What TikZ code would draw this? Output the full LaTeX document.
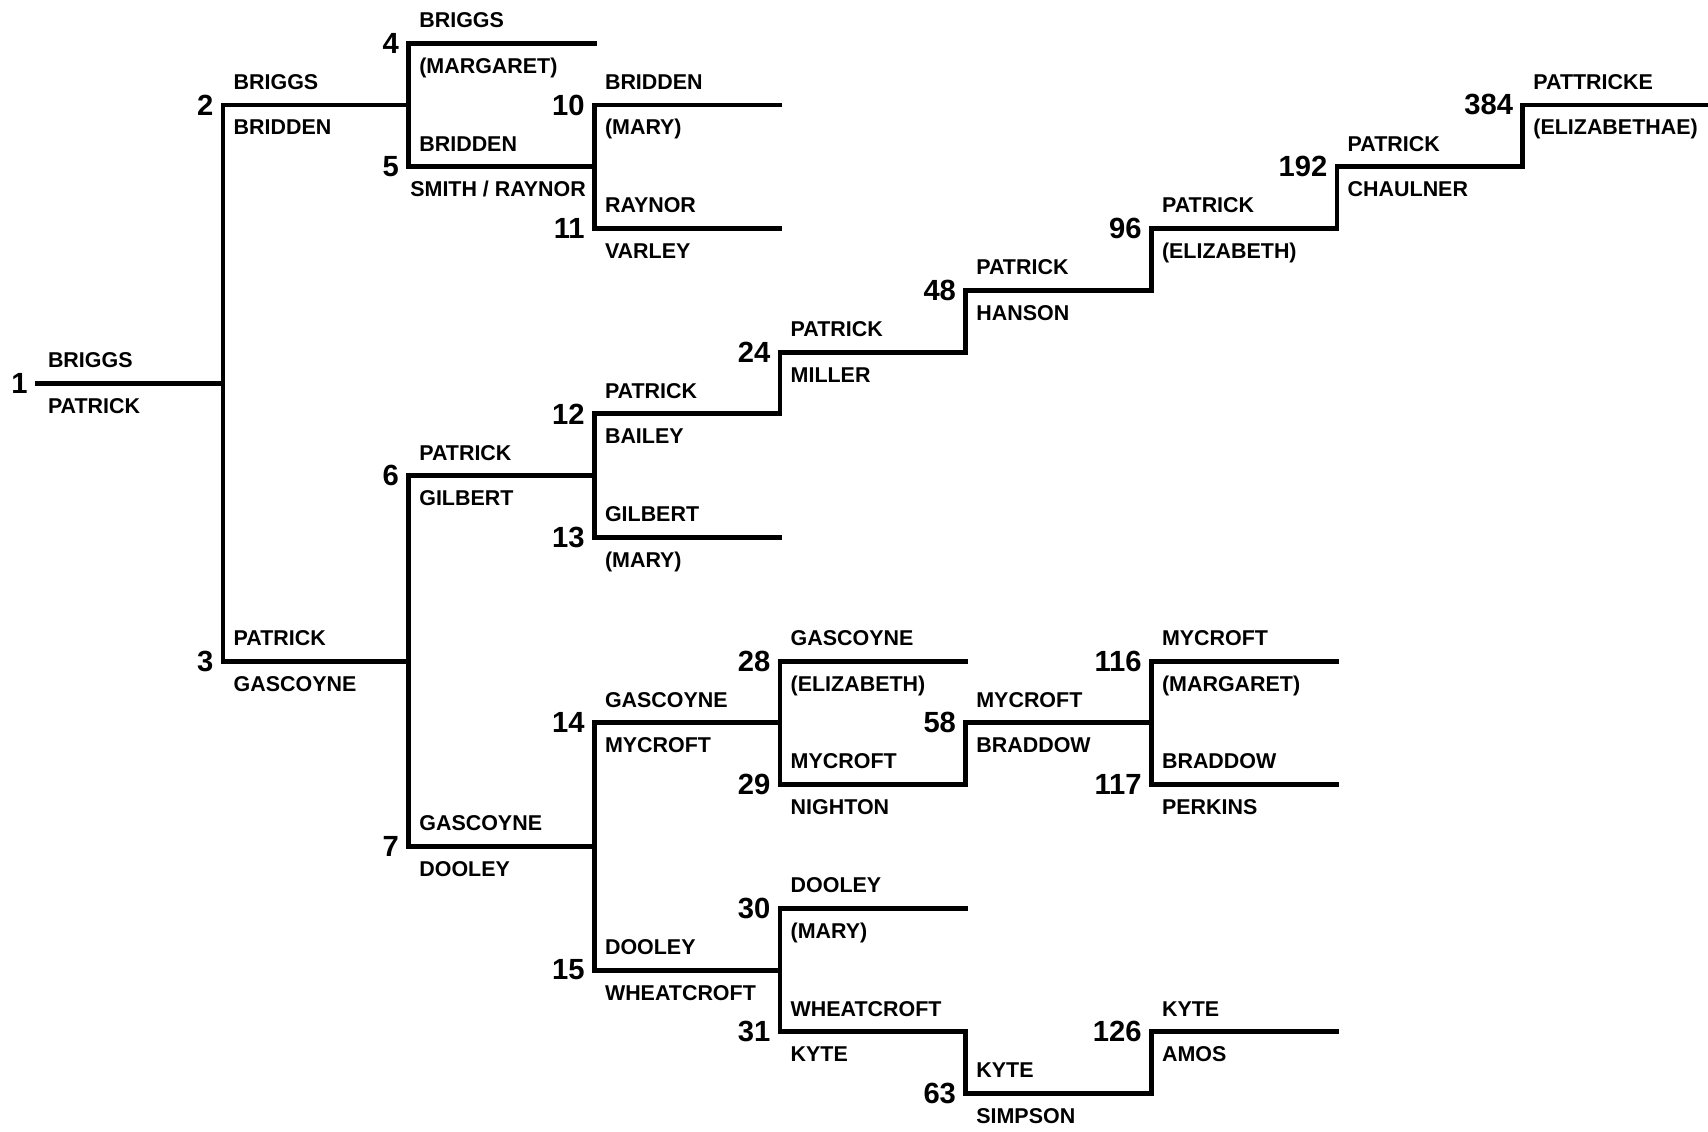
\documentclass[tikz,border=0pt]{standalone}
\usepackage{fontspec}
\setmainfont{Liberation Sans}
\usepackage{tikz}
\usetikzlibrary{positioning}
\newcommand{\pedname}{\fontsize{6.1}{7}\selectfont\bfseries}
\newcommand{\pednum}{\fontsize{8.3}{9}\selectfont\bfseries}

\begin{document}
\begin{tikzpicture}[
        x=1.8567cm, y=-0.6179cm,
        bar/.style={line width=1.4pt, line cap=rect},
        num/.style={anchor=east, inner sep=0pt, font=\pednum, xshift=-0.09cm},
        up/.style={anchor=base west, inner sep=0pt, font=\pedname, xshift=0.10cm, yshift=0.157cm},
        dn/.style={anchor=base west, inner sep=0pt, font=\pedname, xshift=0.10cm, yshift=-0.30cm}
    ]
        \useasboundingbox (-0.2009,-0.699) rectangle (8.998,17.605);

        \draw[bar] (0,5.5) coordinate (p1) -- ++(1,0) coordinate (p1e);
        \node[num] (n1) at (p1) {1};
        \node[up] (u1) at (p1) {BRIGGS};
        \node[dn] (d1) at (p1) {PATRICK};

        \draw[bar] (1,1) coordinate (p2) -- ++(1,0) coordinate (p2e);
        \node[num] (n2) at (p2) {2};
        \node[up] (u2) at (p2) {BRIGGS};
        \node[dn] (d2) at (p2) {BRIDDEN};

        \draw[bar] (1,10) coordinate (p3) -- ++(1,0) coordinate (p3e);
        \node[num] (n3) at (p3) {3};
        \node[up] (u3) at (p3) {PATRICK};
        \node[dn] (d3) at (p3) {GASCOYNE};

        \draw[bar] (2,0) coordinate (p4) -- ++(1,0) coordinate (p4e);
        \node[num] (n4) at (p4) {4};
        \node[up] (u4) at (p4) {BRIGGS};
        \node[dn] (d4) at (p4) {(MARGARET)};

        \draw[bar] (2,2) coordinate (p5) -- ++(1,0) coordinate (p5e);
        \node[num] (n5) at (p5) {5};
        \node[up] (u5) at (p5) {BRIDDEN};
        \node[dn, xshift=-0.09cm] (d5) at (p5) {SMITH / RAYNOR};

        \draw[bar] (2,7) coordinate (p6) -- ++(1,0) coordinate (p6e);
        \node[num] (n6) at (p6) {6};
        \node[up] (u6) at (p6) {PATRICK};
        \node[dn] (d6) at (p6) {GILBERT};

        \draw[bar] (2,13) coordinate (p7) -- ++(1,0) coordinate (p7e);
        \node[num] (n7) at (p7) {7};
        \node[up] (u7) at (p7) {GASCOYNE};
        \node[dn] (d7) at (p7) {DOOLEY};

        \draw[bar] (3,1) coordinate (p10) -- ++(1,0) coordinate (p10e);
        \node[num] (n10) at (p10) {10};
        \node[up] (u10) at (p10) {BRIDDEN};
        \node[dn] (d10) at (p10) {(MARY)};

        \draw[bar] (3,3) coordinate (p11) -- ++(1,0) coordinate (p11e);
        \node[num] (n11) at (p11) {11};
        \node[up] (u11) at (p11) {RAYNOR};
        \node[dn] (d11) at (p11) {VARLEY};

        \draw[bar] (3,6) coordinate (p12) -- ++(1,0) coordinate (p12e);
        \node[num] (n12) at (p12) {12};
        \node[up] (u12) at (p12) {PATRICK};
        \node[dn] (d12) at (p12) {BAILEY};

        \draw[bar] (3,8) coordinate (p13) -- ++(1,0) coordinate (p13e);
        \node[num] (n13) at (p13) {13};
        \node[up] (u13) at (p13) {GILBERT};
        \node[dn] (d13) at (p13) {(MARY)};

        \draw[bar] (3,11) coordinate (p14) -- ++(1,0) coordinate (p14e);
        \node[num] (n14) at (p14) {14};
        \node[up] (u14) at (p14) {GASCOYNE};
        \node[dn] (d14) at (p14) {MYCROFT};

        \draw[bar] (3,15) coordinate (p15) -- ++(1,0) coordinate (p15e);
        \node[num] (n15) at (p15) {15};
        \node[up] (u15) at (p15) {DOOLEY};
        \node[dn] (d15) at (p15) {WHEATCROFT};

        \draw[bar] (4,5) coordinate (p24) -- ++(1,0) coordinate (p24e);
        \node[num] (n24) at (p24) {24};
        \node[up] (u24) at (p24) {PATRICK};
        \node[dn] (d24) at (p24) {MILLER};

        \draw[bar] (4,10) coordinate (p28) -- ++(1,0) coordinate (p28e);
        \node[num] (n28) at (p28) {28};
        \node[up] (u28) at (p28) {GASCOYNE};
        \node[dn] (d28) at (p28) {(ELIZABETH)};

        \draw[bar] (4,12) coordinate (p29) -- ++(1,0) coordinate (p29e);
        \node[num] (n29) at (p29) {29};
        \node[up] (u29) at (p29) {MYCROFT};
        \node[dn] (d29) at (p29) {NIGHTON};

        \draw[bar] (4,14) coordinate (p30) -- ++(1,0) coordinate (p30e);
        \node[num] (n30) at (p30) {30};
        \node[up] (u30) at (p30) {DOOLEY};
        \node[dn] (d30) at (p30) {(MARY)};

        \draw[bar] (4,16) coordinate (p31) -- ++(1,0) coordinate (p31e);
        \node[num] (n31) at (p31) {31};
        \node[up] (u31) at (p31) {WHEATCROFT};
        \node[dn] (d31) at (p31) {KYTE};

        \draw[bar] (5,4) coordinate (p48) -- ++(1,0) coordinate (p48e);
        \node[num] (n48) at (p48) {48};
        \node[up] (u48) at (p48) {PATRICK};
        \node[dn] (d48) at (p48) {HANSON};

        \draw[bar] (5,11) coordinate (p58) -- ++(1,0) coordinate (p58e);
        \node[num] (n58) at (p58) {58};
        \node[up] (u58) at (p58) {MYCROFT};
        \node[dn] (d58) at (p58) {BRADDOW};

        \draw[bar] (5,17) coordinate (p63) -- ++(1,0) coordinate (p63e);
        \node[num] (n63) at (p63) {63};
        \node[up] (u63) at (p63) {KYTE};
        \node[dn] (d63) at (p63) {SIMPSON};

        \draw[bar] (6,3) coordinate (p96) -- ++(1,0) coordinate (p96e);
        \node[num] (n96) at (p96) {96};
        \node[up] (u96) at (p96) {PATRICK};
        \node[dn] (d96) at (p96) {(ELIZABETH)};

        \draw[bar] (6,10) coordinate (p116) -- ++(1,0) coordinate (p116e);
        \node[num] (n116) at (p116) {116};
        \node[up] (u116) at (p116) {MYCROFT};
        \node[dn] (d116) at (p116) {(MARGARET)};

        \draw[bar] (6,12) coordinate (p117) -- ++(1,0) coordinate (p117e);
        \node[num] (n117) at (p117) {117};
        \node[up] (u117) at (p117) {BRADDOW};
        \node[dn] (d117) at (p117) {PERKINS};

        \draw[bar] (6,16) coordinate (p126) -- ++(1,0) coordinate (p126e);
        \node[num] (n126) at (p126) {126};
        \node[up] (u126) at (p126) {KYTE};
        \node[dn] (d126) at (p126) {AMOS};

        \draw[bar] (7,2) coordinate (p192) -- ++(1,0) coordinate (p192e);
        \node[num] (n192) at (p192) {192};
        \node[up] (u192) at (p192) {PATRICK};
        \node[dn] (d192) at (p192) {CHAULNER};

        \draw[bar] (8,1) coordinate (p384) -- ++(1,0) coordinate (p384e);
        \node[num] (n384) at (p384) {384};
        \node[up] (u384) at (p384) {PATTRICKE};
        \node[dn] (d384) at (p384) {(ELIZABETHAE)};

        \draw[bar] (p2) -- (p3);
        \draw[bar] (p4) -- (p5);
        \draw[bar] (p6) -- (p7);
        \draw[bar] (p10) -- (p11);
        \draw[bar] (p12) -- (p13);
        \draw[bar] (p14) -- (p15);
        \draw[bar] (p24) -- (p12e);
        \draw[bar] (p28) -- (p29);
        \draw[bar] (p30) -- (p31);
        \draw[bar] (p48) -- (p24e);
        \draw[bar] (p58) -- (p29e);
        \draw[bar] (p63) -- (p31e);
        \draw[bar] (p96) -- (p48e);
        \draw[bar] (p116) -- (p117);
        \draw[bar] (p126) -- (p63e);
        \draw[bar] (p192) -- (p96e);
        \draw[bar] (p384) -- (p192e);
    \end{tikzpicture}
\end{document}
